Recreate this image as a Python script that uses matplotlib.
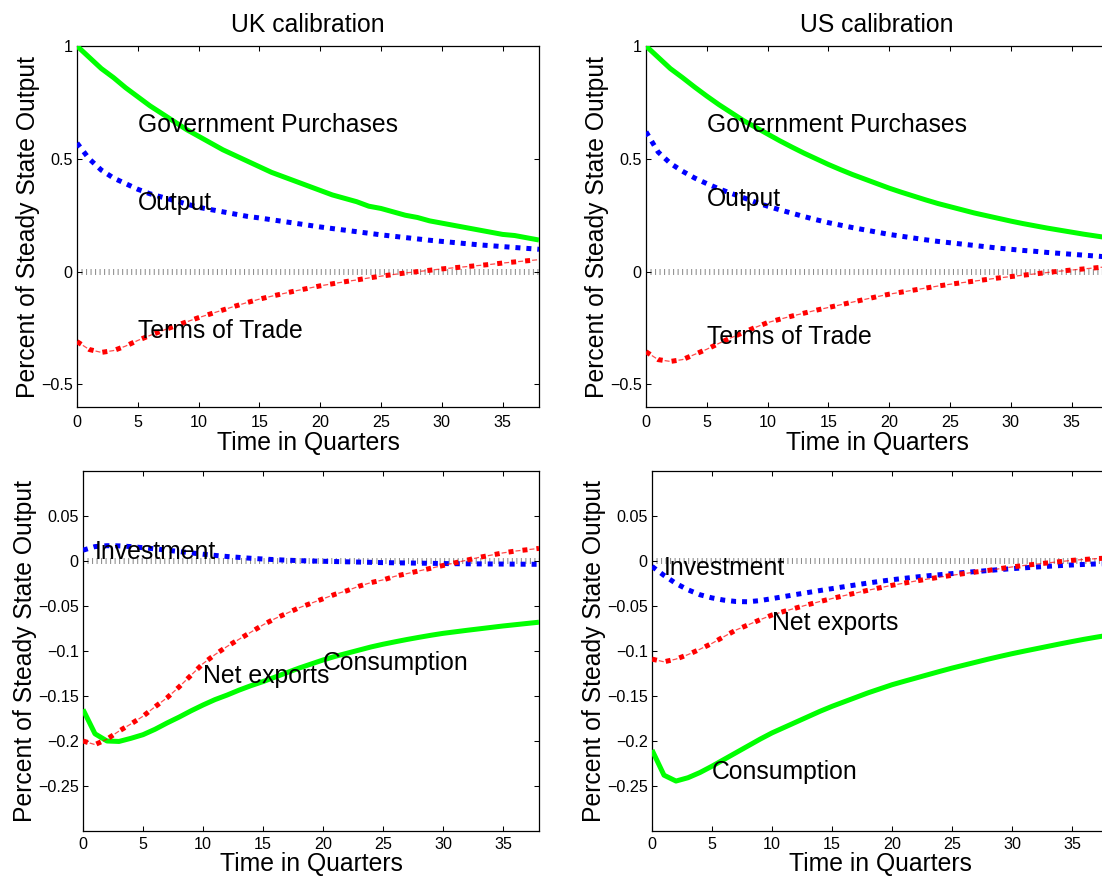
import matplotlib
matplotlib.use("Agg")
import matplotlib.pyplot as plt
from matplotlib.ticker import FuncFormatter

plt.rcParams['font.family'] = ['Liberation Sans', 'DejaVu Sans']
plt.rcParams['lines.scale_dashes'] = False

quarters = list(range(39))

# ---- top row: UK / US calibration ----
uk_gov = [1.00, .95, .90, .86, .815, .775, .735, .70, .665, .63, .60, .57, .54, .515, .49, .465, .44, .42, .40, .38,
          .36, .34, .325, .31, .29, .28, .265, .25, .24, .225, .215, .205, .195, .185, .175, .165, .16, .15, .14]
uk_output = [.57, .50, .45, .415, .39, .365, .345, .33, .315, .30, .285, .275, .265, .255, .245, .238, .23, .222, .214,
             .206, .198, .191, .184, .177, .17, .163, .157, .151, .145, .139, .134, .129, .124, .119, .115, .111, .107,
             .103, .099]
uk_tot = [-.31, -.345, -.358, -.35, -.33, -.305, -.283, -.262, -.242, -.223, -.204, -.187, -.17, -.153, -.137, -.122,
          -.109, -.097, -.085, -.074, -.063, -.054, -.045, -.037, -.028, -.02, -.013, -.006, .0, .006, .012, .017, .022,
          .027, .032, .038, .043, .048, .053]

us_gov = [1.00, .95, .90, .86, .818, .778, .74, .705, .67, .64, .61, .58, .552, .525, .50, .475, .452, .43, .41, .39,
          .37, .352, .335, .318, .302, .288, .274, .26, .248, .236, .224, .213, .203, .193, .184, .175, .166, .158, .15]
us_output = [.62, .53, .48, .445, .415, .39, .367, .347, .328, .308, .29, .274, .259, .244, .23, .217, .206, .195, .185,
             .175, .165, .157, .149, .141, .134, .128, .122, .116, .11, .104, .099, .094, .09, .085, .081, .077, .073,
             .069, .065]
us_tot = [-.355, -.39, -.398, -.39, -.367, -.344, -.318, -.293, -.27, -.247, -.226, -.211, -.197, -.184, -.171, -.159,
          -.147, -.135, -.123, -.111, -.1, -.091, -.082, -.073, -.064, -.056, -.049, -.042, -.035, -.028, -.022, -.016,
          -.01, -.004, .002, .007, .012, .017, .022]

# ---- bottom row ----
uk_inv = [.012, .016, .017, .0168, .016, .0148, .0135, .012, .0105, .009, .0075, .0062, .005, .004, .003, .0022, .0015,
          .0009, .0004, .0, -.0003, -.0006, -.0009, -.0012, -.0015, -.0018, -.002, -.0022, -.0024, -.0026, -.0028,
          -.003, -.0031, -.0032, -.0033, -.0034, -.0035, -.0036, -.0037]
uk_nx = [-.20, -.204, -.198, -.189, -.181, -.1725, -.162, -.152, -.14, -.127, -.114, -.104, -.095, -.087, -.079, -.071,
         -.064, -.058, -.052, -.047, -.042, -.037, -.033, -.028, -.024, -.021, -.017, -.014, -.011, -.008, -.005,
         -.002, .001, .004, .0065, .009, .011, .0125, .014]
uk_cons = [-.165, -.192, -.2, -.2005, -.197, -.193, -.187, -.18, -.1735, -.1665, -.16, -.154, -.149, -.1435, -.1385,
           -.134, -.129, -.124, -.119, -.1145, -.11, -.106, -.1025, -.099, -.0955, -.0925, -.0898, -.0872, -.0848,
           -.0825, -.0804, -.0787, -.077, -.0754, -.0738, -.0722, -.0708, -.0694, -.068]

us_inv = [-.006, -.016, -.025, -.032, -.0375, -.041, -.0435, -.045, -.0453, -.044, -.0418, -.0395, -.0372, -.035,
          -.0328, -.0307, -.0286, -.0265, -.0245, -.0226, -.0208, -.0193, -.0178, -.0164, -.0152, -.014, -.0128,
          -.0117, -.0106, -.0095, -.0085, -.0076, -.0067, -.0059, -.0051, -.0044, -.0038, -.0033, -.003]
us_nx = [-.109, -.112, -.109, -.104, -.098, -.0915, -.084, -.0767, -.071, -.0653, -.06, -.056, -.0522, -.0485, -.045,
         -.0417, -.0385, -.0355, -.0325, -.0297, -.027, -.0246, -.0222, -.02, -.0179, -.0159, -.014, -.0122, -.0105,
         -.0085, -.0066, -.005, -.0035, -.0021, -.0007, .0007, .0017, .0026, .0033]
us_cons = [-.21, -.238, -.2445, -.2408, -.235, -.228, -.2205, -.213, -.2055, -.198, -.191, -.185, -.179, -.173, -.167,
           -.1615, -.1565, -.1515, -.1465, -.142, -.1375, -.1337, -.13, -.1263, -.1226, -.119, -.1157, -.1124, -.1091,
           -.106, -.103, -.1002, -.0975, -.0948, -.0921, -.0895, -.087, -.0847, -.0825]

titles = ["UK calibration", "US calibration"]
top_labels = ["Government Purchases", "Output", "Terms of Trade"]
bottom_labels = ["Investment", "Net exports", "Consumption"]
xticks = [0, 5, 10, 15, 20, 25, 30, 35]
top_yticks = [-0.5, 0, 0.5, 1]
bottom_yticks = [-0.25, -0.2, -0.15, -0.1, -0.05, 0, 0.05]

W, H = 1102, 876
fig = plt.figure(figsize=(W / 100, H / 100), dpi=100)

def px_axes(left, right, top, bottom):
    return fig.add_axes([left / W, 1 - bottom / H, (right - left) / W, (bottom - top) / H])

GREEN = (0.0, 1.0, 0.0)
BLUE = (0.0, 0.0, 1.0)
RED = (1.0, 0.0, 0.0)
FS = 17.8
TFS = 11.6

def fmt(v, pos):
    s = "%g" % v
    return s.replace("-", "\u2212")

def style(ax, ylim, yticks, xtpad, xlpad):
    ax.set_xlim(0, 38)
    ax.set_ylim(*ylim)
    ax.set_xticks(xticks)
    ax.set_yticks(yticks)
    ax.xaxis.set_major_formatter(FuncFormatter(fmt))
    ax.yaxis.set_major_formatter(FuncFormatter(fmt))
    ax.tick_params(direction='in', top=True, right=True, length=3.6, width=0.75,
                   labelsize=TFS, colors='black')
    ax.tick_params(axis='x', pad=xtpad)
    ax.tick_params(axis='y', pad=3)
    for s in ax.spines.values():
        s.set_linewidth(0.9)
    ax.set_xlabel("Time in Quarters", fontsize=FS, labelpad=xlpad)
    ax.set_ylabel("Percent of Steady State Output", fontsize=FS, labelpad=0.5)
    ax.axhline(0, color=(0.55, 0.55, 0.55), lw=4.3, linestyle=(0, (0.75, 2.5)),
               dash_capstyle='butt', zorder=1)

def draw(ax, solid, dotted, dashdot):
    ax.plot(quarters, solid, color=GREEN, lw=3.6, solid_capstyle='butt', zorder=3)
    ax.plot(quarters, dotted, color=BLUE, lw=3.6, linestyle=(0, (3.6, 4.3)),
            dash_capstyle='butt', zorder=3)
    ax.plot(quarters, dashdot, color=RED, lw=3.6, linestyle=(0, (3.6, 6.5)),
            dash_capstyle='butt', zorder=3)
    ax.plot(quarters, dashdot, color=RED, lw=0.9, alpha=0.7, linestyle=(5.05, (3.6, 6.5)),
            dash_capstyle='butt', zorder=3)

ax_tl = px_axes(77, 539, 46, 407)
ax_tr = px_axes(646, 1108, 46, 407)
ax_bl = px_axes(83, 539, 471, 831)
ax_br = px_axes(652, 1108, 471, 831)

for ax, g, o, t, title in [(ax_tl, uk_gov, uk_output, uk_tot, titles[0]),
                           (ax_tr, us_gov, us_output, us_tot, titles[1])]:
    style(ax, (-0.6, 1.0), top_yticks, 6, 0.5)
    draw(ax, g, o, t)
    ax.set_title(title, fontsize=FS, pad=10)

ax_tl.text(5, 0.65, top_labels[0], fontsize=FS, va='center', ha='left', zorder=5)
ax_tl.text(5, 0.305, top_labels[1], fontsize=FS, va='center', ha='left', zorder=5)
ax_tl.text(5, -0.265, top_labels[2], fontsize=FS, va='center', ha='left', zorder=5)
ax_tr.text(5, 0.65, top_labels[0], fontsize=FS, va='center', ha='left', zorder=5)
ax_tr.text(5, 0.32, top_labels[1], fontsize=FS, va='center', ha='left', zorder=5)
ax_tr.text(5, -0.29, top_labels[2], fontsize=FS, va='center', ha='left', zorder=5)

for ax, c, i, n in [(ax_bl, uk_cons, uk_inv, uk_nx), (ax_br, us_cons, us_inv, us_nx)]:
    style(ax, (-0.3, 0.1), bottom_yticks, 4, 0.0)
    draw(ax, c, i, n)

ax_bl.text(1, 0.01, bottom_labels[0], fontsize=FS, va='center', ha='left', zorder=5)
ax_bl.text(10, -0.128, bottom_labels[1], fontsize=FS, va='center', ha='left', zorder=5)
ax_bl.text(20, -0.1136, bottom_labels[2], fontsize=FS, va='center', ha='left', zorder=5)
ax_br.text(1, -0.0074, bottom_labels[0], fontsize=FS, va='center', ha='left', zorder=5)
ax_br.text(10, -0.0686, bottom_labels[1], fontsize=FS, va='center', ha='left', zorder=5)
ax_br.text(5, -0.235, bottom_labels[2], fontsize=FS, va='center', ha='left', zorder=5)

fig.savefig("out.png", dpi=100)
